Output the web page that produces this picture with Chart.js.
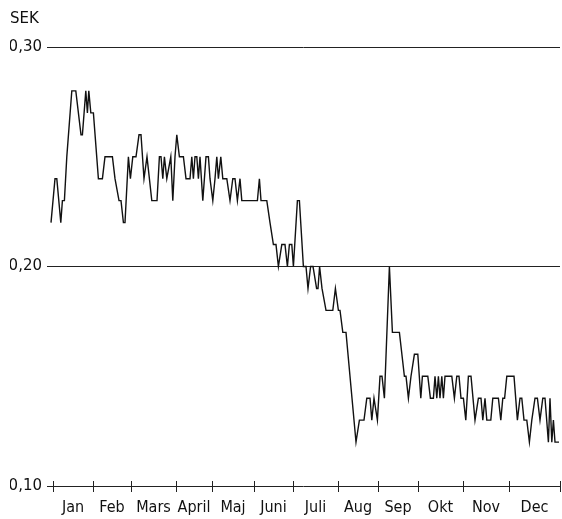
<!DOCTYPE html>
<html>
<head>
<meta charset="utf-8">
<script src="https://cdn.jsdelivr.net/npm/chart.js@4"></script>
<style>
  body { margin: 0; background: #fff; }
  canvas { display: block; }
</style>
</head>
<body>
<canvas id="kurs" width="562" height="519"></canvas>
<script>
// MÅNADER (x = handelsdag räknat från vänsterkanten)
const months = ["Jan", "Feb", "Mars", "April", "Maj", "Juni", "Juli", "Aug", "Sep", "Okt", "Nov", "Dec"];
const monthStarts = [3, 23, 42, 64.5, 82.5, 103.5, 123, 145.5, 165.5, 185.5, 208, 231, 256.5];
const yTicks = [0.10, 0.20, 0.30];

// KURS I SEK
const days = [
  2, 4, 4.9, 6.9, 7.7, 8.7, 9.9, 12.4, 14.4, 17, 17.7, 19.4, 20.2, 20.9, 21.9, 23.2,
  25.7, 27.7, 29, 32.7, 34, 36, 37, 38.2, 39, 40.7, 41.7, 42.9, 44.5, 46, 47, 48.5,
  50, 52.4, 55, 56.2, 57, 57.9, 58.7, 59.9, 61.9, 62.9, 64, 64.9, 66.2, 68.2, 69.5, 71.5,
  72.4, 73.2, 74, 74.9, 75.7, 76.5, 77.9, 79.5, 80.7, 81.5, 82.9, 84, 84.9, 85.7, 86.9, 87.9,
  89.9, 91.5, 92.9, 94, 95.2, 96.5, 97.4, 105.2, 106.2, 107, 109.9, 111.5, 113.2, 114.5, 115.7, 117.4,
  119, 120.2, 121.2, 122.4, 123.2, 125.2, 126.2, 128.2, 129.5, 130.5, 131.8, 133, 134.8, 135.5, 136.3, 137.5,
  139.5, 142.9, 144.2, 145.7, 146.5, 147.9, 149.5, 154.5, 156.2, 158.5, 159.9, 161.5, 162.4, 163.5, 165.2, 166.5,
  167.5, 168.7, 171.2, 172.7, 176.2, 178.7, 179.5, 180.7, 182, 183.7, 185.4, 186.9, 187.7, 190.4, 191.7, 193.2,
  194, 194.9, 195.7, 196.5, 197.4, 198.2, 199, 202.4, 203.7, 204.9, 206, 207, 208.2, 209.4, 210.7, 212,
  214, 215.7, 217, 217.9, 219, 219.9, 221.9, 222.9, 225.7, 226.9, 227.9, 228.8, 229.9, 233.5, 235.2, 236.5,
  237.4, 238.5, 239.9, 241.2, 242.4, 244, 245.2, 246.5, 247.9, 249, 250.7, 251.5, 252.4, 253.2, 254, 256
];
const prices = [
  0.22, 0.24, 0.24, 0.22, 0.23, 0.23, 0.25, 0.28, 0.28, 0.26, 0.26, 0.28, 0.27, 0.28, 0.27, 0.27,
  0.24, 0.24, 0.25, 0.25, 0.24, 0.23, 0.23, 0.22, 0.22, 0.25, 0.24, 0.25, 0.25, 0.26, 0.26, 0.24,
  0.25, 0.23, 0.23, 0.25, 0.25, 0.24, 0.25, 0.24, 0.25, 0.23, 0.25, 0.26, 0.25, 0.25, 0.24, 0.24,
  0.25, 0.24, 0.25, 0.25, 0.24, 0.25, 0.23, 0.25, 0.25, 0.24, 0.23, 0.24, 0.25, 0.24, 0.25, 0.24,
  0.24, 0.23, 0.24, 0.24, 0.23, 0.24, 0.23, 0.23, 0.24, 0.23, 0.23, 0.22, 0.21, 0.21, 0.20, 0.21,
  0.21, 0.20, 0.21, 0.21, 0.20, 0.23, 0.23, 0.20, 0.20, 0.19, 0.20, 0.20, 0.19, 0.19, 0.20, 0.19,
  0.18, 0.18, 0.19, 0.18, 0.18, 0.17, 0.17, 0.12, 0.13, 0.13, 0.14, 0.14, 0.13, 0.14, 0.13, 0.15,
  0.15, 0.14, 0.20, 0.17, 0.17, 0.15, 0.15, 0.14, 0.15, 0.16, 0.16, 0.14, 0.15, 0.15, 0.14, 0.14,
  0.15, 0.14, 0.15, 0.14, 0.15, 0.14, 0.15, 0.15, 0.14, 0.15, 0.15, 0.14, 0.14, 0.13, 0.15, 0.15,
  0.13, 0.14, 0.14, 0.13, 0.14, 0.13, 0.13, 0.14, 0.14, 0.13, 0.14, 0.14, 0.15, 0.15, 0.13, 0.14,
  0.14, 0.13, 0.13, 0.12, 0.13, 0.14, 0.14, 0.13, 0.14, 0.14, 0.12, 0.14, 0.12, 0.13, 0.12, 0.12
];

// streck vid månadsgränserna, tvärs över x-axeln
const monthMarks = {
  id: "monthMarks",
  afterDraw(chart) {
    const x = chart.scales.x;
    const y0 = chart.chartArea.bottom;
    const ctx = chart.ctx;
    ctx.save();
    ctx.strokeStyle = "#222";
    ctx.lineWidth = 1;
    ctx.beginPath();
    monthStarts.forEach(d => {
      const px = Math.round(x.getPixelForValue(d)) + 0.5;
      ctx.moveTo(px, y0 - 5);
      ctx.lineTo(px, y0 + 6);
    });
    ctx.stroke();
    ctx.restore();
  }
};

new Chart(document.getElementById("kurs"), {
  type: "line",
  data: {
    datasets: [{
      data: days.map((d, i) => ({ x: d, y: prices[i] })),
      borderColor: "#111",
      borderWidth: 1.4,
      pointRadius: 0,
      tension: 0,
      fill: false
    }]
  },
  options: {
    responsive: false,
    animation: false,
    layout: { padding: { left: 10, right: 2, top: 0, bottom: 3 } },
    plugins: {
      legend: { display: false },
      tooltip: { enabled: false },
      title: {
        display: true,
        text: "SEK",
        align: "start",
        color: "#111",
        font: { family: "DejaVu Sans", size: 15, weight: "normal" },
        padding: { top: 10, bottom: 19 }
      }
    },
    scales: {
      x: {
        type: "linear",
        min: 0,
        max: monthStarts[monthStarts.length - 1],
        afterBuildTicks: s => { s.ticks = months.map((m, i) => ({ value: (monthStarts[i] + monthStarts[i + 1]) / 2 })); },
        afterFit: s => { s.height = 30; },
        ticks: {
          autoSkip: false,
          maxRotation: 0,
          padding: 12,
          color: "#111",
          font: { family: "'Liberation Sans Narrow', 'DejaVu Sans Condensed', sans-serif", size: 16 },
          callback: (v, i) => months[i]
        },
        grid: { display: false, drawTicks: false },
        border: { display: false }
      },
      y: {
        min: 0.10,
        max: 0.30,
        afterBuildTicks: s => { s.ticks = yTicks.map(v => ({ value: v })); },
        afterFit: s => { s.width = 37; },
        ticks: {
          padding: 5,
          color: "#111",
          font: { family: "DejaVu Sans", size: 15 },
          callback: v => v.toFixed(2).replace(".", ",")
        },
        grid: { color: "#222", lineWidth: 1, drawTicks: false },
        border: { display: false }
      }
    }
  },
  plugins: [monthMarks]
});
</script>
</body>
</html>
